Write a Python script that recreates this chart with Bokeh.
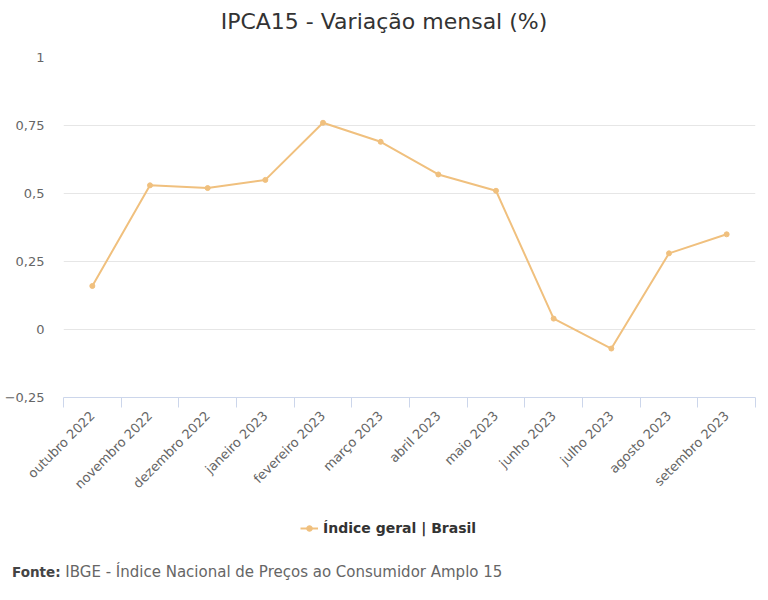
from bokeh.plotting import figure
from bokeh.models import Range1d, FixedTicker, Legend, LegendItem, Div
from bokeh.layouts import column
from bokeh.embed import file_html
from bokeh.resources import INLINE

meses = ["outubro 2022", "novembro 2022", "dezembro 2022", "janeiro 2023",
         "fevereiro 2023", "março 2023", "abril 2023", "maio 2023",
         "junho 2023", "julho 2023", "agosto 2023", "setembro 2023"]
valores = [0.16, 0.53, 0.52, 0.55, 0.76, 0.69, 0.57, 0.51, 0.04, -0.07, 0.28, 0.35]
y_ticks = [-0.25, 0, 0.25, 0.5, 0.75, 1]
y_tick_labels = ["−0,25", "0", "0,25", "0,5", "0,75", "1"]
serie = "Índice geral | Brasil"
titulo = "IPCA15 - Variação mensal (%)"
fonte = "IBGE - Índice Nacional de Preços ao Consumidor Amplo 15"

FONT = "DejaVu Sans"
COR = "#f0c07e"

n = len(meses)
xs = [i + 0.5 for i in range(n)]

cabecalho = Div(text=titulo, width=768, height=40, margin=(0, 0, 0, 0),
                styles={"font-family": FONT, "font-size": "22px", "color": "#333333",
                        "text-align": "center", "line-height": "44px",
                        "white-space": "nowrap"})

p = figure(width=768, height=460, x_range=Range1d(0, n), y_range=Range1d(-0.25, 1),
           output_backend="svg", toolbar_location=None, title=None,
           min_border_left=63, min_border_right=13, min_border_top=17, min_border_bottom=103)
p.outline_line_color = None
p.background_fill_color = "white"
p.border_fill_color = "white"

# x axis
p.xaxis.ticker = FixedTicker(ticks=xs, minor_ticks=list(range(n + 1)))
p.xaxis.major_label_overrides = {x: m for x, m in zip(xs, meses)}
p.xaxis.major_label_orientation = 0.785398
p.xaxis.major_tick_out = 0
p.xaxis.major_tick_in = 0
p.xaxis.minor_tick_out = 10
p.xaxis.minor_tick_in = 0
p.xaxis.minor_tick_line_color = "#ccd6eb"
p.xaxis.axis_line_color = "#ccd6eb"
p.xaxis.major_label_text_font = FONT
p.xaxis.major_label_text_font_size = "13px"
p.xaxis.major_label_text_color = "#666666"
p.xaxis.major_label_standoff = 6
p.xgrid.grid_line_color = None

# y axis
p.yaxis.ticker = FixedTicker(ticks=y_ticks)
p.yaxis.major_label_overrides = {t: l for t, l in zip(y_ticks, y_tick_labels)}
p.yaxis.axis_line_color = None
p.yaxis.major_tick_line_color = None
p.yaxis.minor_tick_line_color = None
p.yaxis.major_tick_out = 0
p.yaxis.major_tick_in = 0
p.yaxis.major_label_standoff = 19
p.yaxis.major_label_text_font = FONT
p.yaxis.major_label_text_font_size = "13px"
p.yaxis.major_label_text_color = "#666666"
p.ygrid.ticker = FixedTicker(ticks=y_ticks)
p.ygrid.grid_line_color = "#e6e6e6"

p.line(xs, valores, line_color=COR, line_width=2)
p.scatter(xs, valores, size=5, fill_color=COR, line_color=COR)

# legend strip (frame is aligned with the main plot's frame)
q = figure(width=768, height=50, x_range=Range1d(0, 1), y_range=Range1d(0, 1),
           output_backend="svg", toolbar_location=None, title=None,
           x_axis_location=None, y_axis_location=None,
           min_border_left=63, min_border_right=13, min_border_top=0, min_border_bottom=0)
q.outline_line_color = None
q.grid.visible = False
q.border_fill_color = "white"
nan = float("nan")
lg_line = q.line([nan], [nan], line_color=COR, line_width=2)
lg_pts = q.scatter([nan], [nan], size=5, fill_color=COR, line_color=COR)

legend = Legend(items=[LegendItem(label=serie, renderers=[lg_line, lg_pts])],
                location=(237, 14), orientation="horizontal",
                border_line_color=None, background_fill_alpha=0,
                padding=0, margin=0, glyph_width=18, glyph_height=14,
                label_standoff=5, label_text_font=FONT, label_text_font_size="14px",
                label_text_font_style="bold", label_text_color="#333333")
q.add_layout(legend, "center")

rodape = Div(text='<span style="font-weight:bold;font-size:13.5px;color:#444444">Fonte:</span> '
             + fonte,
             width=756, height=50, margin=(0, 0, 0, 12),
             styles={"font-family": FONT, "font-size": "15px", "color": "#666666",
                     "line-height": "44px", "white-space": "nowrap"})

layout = column(cabecalho, p, q, rodape, spacing=0)
open("out.html", "w").write(file_html(layout, INLINE))
